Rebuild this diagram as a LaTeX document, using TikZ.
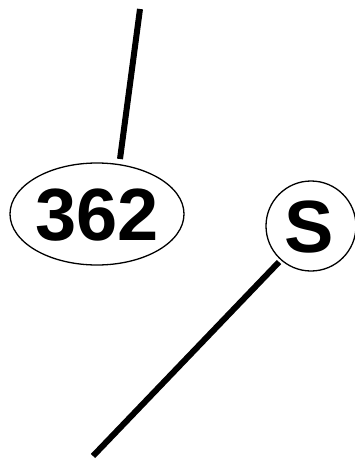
\documentclass[tikz,border=0pt]{standalone}
\usepackage{fontspec}
\setmainfont{Liberation Sans}
\usetikzlibrary{shapes.geometric}
\begin{document}
\begin{tikzpicture}[x=1pt,y=-1pt,
  lbl/.style={font=\fontsize{74}{80}\selectfont\bfseries, inner sep=0pt},
  edge/.style={line width=6pt}]
\useasboundingbox (0,0) rectangle (354,460);
\node[draw, line width=1.3pt, ellipse, minimum width=174pt, minimum height=102pt] (a) at (97,214) {};
\node[lbl] (at) at (97,215) {362};
\node[draw, line width=1.3pt, circle, minimum size=90pt] (s) at (311,226) {};
\node[lbl] (st) at (309,227) {S};
\coordinate (top) at (140,9);
\coordinate (aend) at (120,159);
\coordinate (send) at (279,262);
\coordinate (bot) at (93,456);
\draw[edge] (top) -- (aend);
\draw[edge] (send) -- (bot);
\end{tikzpicture}
\end{document}
